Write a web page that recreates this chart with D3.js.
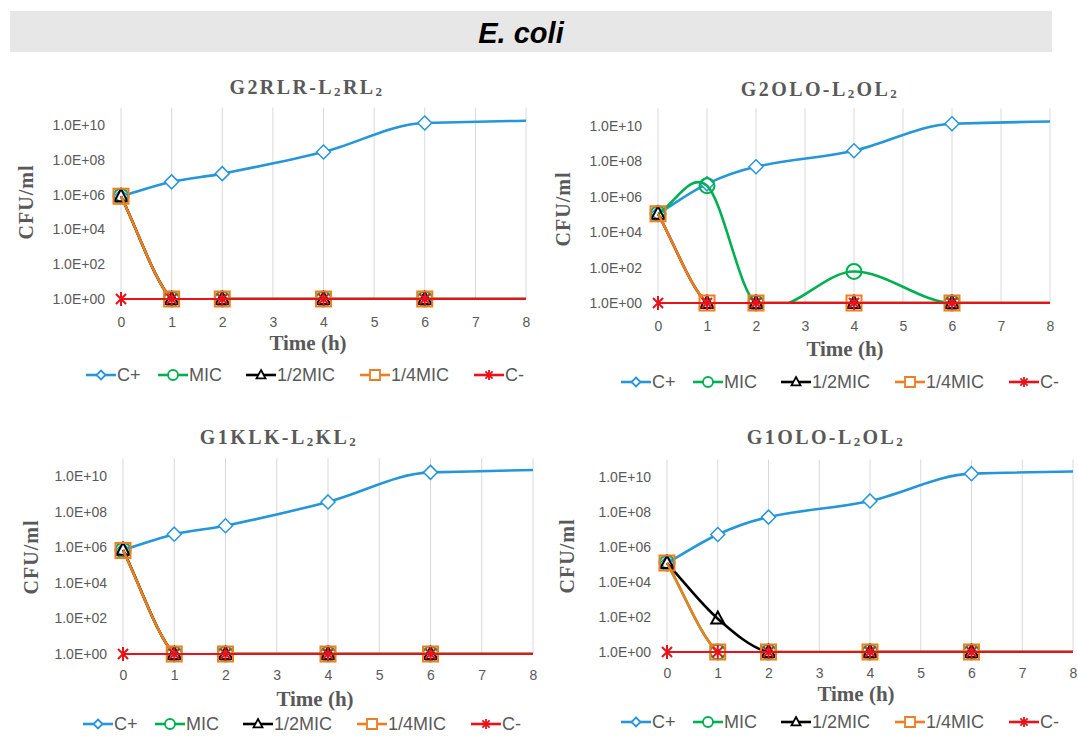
<!DOCTYPE html>
<html>
<head>
<meta charset="utf-8">
<script src="https://cdn.jsdelivr.net/npm/d3@7"></script>
<style>
  body { margin: 0; background: #fff; }
  svg { display: block; }
</style>
</head>
<body>
<svg width="1078" height="736"></svg>
<script>
// sampling times (h); the 24 h point lies beyond the axis and is clipped
var hours = [0, 1, 2, 4, 6, 24];
var xTicks = [0, 1, 2, 3, 4, 5, 6, 7, 8];
var yTicks = [1e0, 1e2, 1e4, 1e6, 1e8, 1e10];
var seriesNames = ["C+", "MIC", "1/2MIC", "1/4MIC", "C-"];
var panelTitles = ["G2RLR-L₂RL₂", "G2OLO-L₂OL₂", "G1KLK-L₂KL₂", "G1OLO-L₂OL₂"];

// CFU/ml, one array per series and peptide (0 CFU plotted as 1.0E+00)
var g2rlrCPlus   = [8.0e5, 5.4e6, 1.6e7, 2.8e8, 1.3e10, 1.3e10];
var g2rlrMic     = [8.0e5, 1, 1, 1, 1, 1];
var g2rlrHalf    = [8.0e5, 1, 1, 1, 1, 1];
var g2rlrQuarter = [8.0e5, 1, 1, 1, 1, 1];

var g2oloCPlus   = [1.1e5, 5.4e6, 5.0e7, 4.0e8, 1.35e10, 1.5e10];
var g2oloMic     = [1.1e5, 4.2e6, 1, 60, 1, 1];
var g2oloHalf    = [1.1e5, 1, 1, 1, 1, 1];
var g2oloQuarter = [1.1e5, 1, 1, 1, 1, 1];

var g1klkCPlus   = [6.8e5, 5.4e6, 1.6e7, 3.5e8, 1.6e10, 1.7e10];
var g1klkMic     = [6.8e5, 1, 1, 1, 1, 1];
var g1klkHalf    = [7.0e5, 1, 1, 1, 1, 1];
var g1klkQuarter = [6.6e5, 1, 1, 1, 1, 1];

var g1oloCPlus   = [1.2e5, 5.2e6, 5.1e7, 4.3e8, 1.55e10, 1.7e10];
var g1oloMic     = [1.2e5, 1, 1, 1, 1, 1];
var g1oloHalf    = [1.2e5, 80, 1, 1, 1, 1];
var g1oloQuarter = [1.2e5, 1, 1, 1, 1, 1];

var cMinus = [1, 1, 1, 1, 1, 1];

var panelSeries = [
  [g2rlrCPlus, g2rlrMic, g2rlrHalf, g2rlrQuarter, cMinus],
  [g2oloCPlus, g2oloMic, g2oloHalf, g2oloQuarter, cMinus],
  [g1klkCPlus, g1klkMic, g1klkHalf, g1klkQuarter, cMinus],
  [g1oloCPlus, g1oloMic, g1oloHalf, g1oloQuarter, cMinus]
];

// styling
var colors = ["#2596d8", "#00b050", "#000000", "#f07d21", "#e8121a"];
var markers = ["diamond", "circle", "triangle", "square", "star"];
var gray = "#595959";
var serif = "'Liberation Serif', 'DejaVu Serif', serif";
var sans = "'Liberation Sans', Arial, sans-serif";

// pixel layout of each panel
var layouts = [
  {x0: 121, x8: 526, yTop: 107.6, yBot: 299, titleX: 307, titleY: 87, timeX: 308, timeY: 343, tickY: 322, yTitleX: 26, yTitleY: 202, legX: 86, legY: 375},
  {x0: 658, x8: 1050, yTop: 108.3, yBot: 303, titleX: 820, titleY: 89, timeX: 845, timeY: 349, tickY: 326, yTitleX: 563, yTitleY: 209, legX: 621, legY: 382},
  {x0: 123, x8: 533, yTop: 458.2, yBot: 654, titleX: 279, titleY: 437, timeX: 315, timeY: 699, tickY: 675, yTitleX: 31, yTitleY: 557, legX: 83, legY: 724},
  {x0: 667, x8: 1073, yTop: 459.5, yBot: 652, titleX: 826, titleY: 437, timeX: 856, timeY: 694, tickY: 673, yTitleX: 567, yTitleY: 556, legX: 621, legY: 722}
];
var legendOffsets = [0, 72, 160, 274, 388];

// spreadsheet-like smoothing: cubic Hermite with three-point slopes (may overshoot)
function smoothCurve(context) {
  var pts;
  return {
    areaStart: function() {}, areaEnd: function() {},
    lineStart: function() { pts = []; },
    point: function(x, y) { pts.push([+x, +y]); },
    lineEnd: function() {
      var n = pts.length, m = [], i;
      if (!n) return;
      context.moveTo(pts[0][0], pts[0][1]);
      if (n < 3) { if (n == 2) context.lineTo(pts[1][0], pts[1][1]); return; }
      for (i = 1; i < n - 1; i++) {
        m[i] = (pts[i + 1][1] - pts[i - 1][1]) / (pts[i + 1][0] - pts[i - 1][0]);
      }
      // end slopes: plain secant
      m[0] = (pts[1][1] - pts[0][1]) / (pts[1][0] - pts[0][0]);
      m[n - 1] = (pts[n - 1][1] - pts[n - 2][1]) / (pts[n - 1][0] - pts[n - 2][0]);
      for (i = 0; i < n - 1; i++) {
        var dx = (pts[i + 1][0] - pts[i][0]) / 3;
        context.bezierCurveTo(pts[i][0] + dx, pts[i][1] + dx * m[i],
                              pts[i + 1][0] - dx, pts[i + 1][1] - dx * m[i + 1],
                              pts[i + 1][0], pts[i + 1][1]);
      }
    }
  };
}

function markerPath(kind, s) {
  if (kind == "diamond") return "M0," + (-s) + "L" + s + ",0L0," + s + "L" + (-s) + ",0Z";
  if (kind == "square") return "M" + (-s) + "," + (-s) + "H" + s + "V" + s + "H" + (-s) + "Z";
  if (kind == "triangle") return "M0," + (-s * 1.1) + "L" + s + "," + (s * 0.75) + "L" + (-s) + "," + (s * 0.75) + "Z";
  if (kind == "circle") return d3.arc()({innerRadius: 0, outerRadius: s, startAngle: 0, endAngle: 2 * Math.PI});
  var d = s * 0.72;
  return "M0," + (-s) + "V" + s + "M" + (-d) + "," + (-d) + "L" + d + "," + d + "M" + d + "," + (-d) + "L" + (-d) + "," + d;
}
var markerSize = [7, 7.5, 6.5, 7.5, 7];
var legendMarkerSize = [4.5, 5, 4.5, 5, 5];

var svg = d3.select("svg");

// header band
svg.append("rect")
  .attr("x", 10).attr("y", 11).attr("width", 1042).attr("height", 41)
  .attr("fill", "#e7e7e7");
svg.append("text")
  .attr("x", 521).attr("y", 33)
  .attr("text-anchor", "middle")
  .attr("dominant-baseline", "central")
  .attr("font-family", sans)
  .attr("font-weight", "bold")
  .attr("font-style", "italic")
  .attr("font-size", 29)
  .text("E. coli");

layouts.forEach(function(L, p) {
  var x = d3.scaleLinear().domain([0, 8]).range([L.x0, L.x8]);
  var y = d3.scaleLog().domain([1, 1e11]).range([L.yBot, L.yTop]);
  var g = svg.append("g");

  // title with subscripts
  var title = g.append("text")
    .attr("x", L.titleX).attr("y", L.titleY)
    .attr("text-anchor", "middle")
    .attr("dominant-baseline", "central")
    .attr("font-family", serif)
    .attr("font-weight", "bold")
    .attr("font-size", 20)
    .attr("letter-spacing", 2.4)
    .attr("fill", gray);
  var parts = panelTitles[p].split("₂");
  parts.forEach(function(part, i) {
    var t = title.append("tspan").text(part);
    if (i > 0) t.attr("dy", -4);
    if (i < parts.length - 1) {
      title.append("tspan").attr("font-size", 13).attr("dy", 4).text("2");
    }
  });
  title.selectAll("tspan").filter(function() { return this.textContent == ""; }).remove();

  // vertical gridlines
  g.selectAll(".grid")
    .data(xTicks)
    .enter().append("line")
    .attr("x1", function(d) { return x(d); })
    .attr("x2", function(d) { return x(d); })
    .attr("y1", L.yTop)
    .attr("y2", L.yBot)
    .attr("stroke", "#d9d9d9")
    .attr("stroke-width", 1);

  // axes
  var xAxis = g.append("g")
    .attr("transform", "translate(0," + L.yBot + ")")
    .call(d3.axisBottom(x).tickValues(xTicks).tickSize(0).tickPadding(L.tickY - L.yBot - 5).tickFormat(d3.format("d")));
  var yAxis = g.append("g")
    .attr("transform", "translate(" + L.x0 + ",0)")
    .call(d3.axisLeft(y).tickValues(yTicks).tickSize(0).tickPadding(16)
      .tickFormat(function(d) { return "1.0E+" + String(Math.round(Math.log10(d))).padStart(2, "0"); }));
  [xAxis, yAxis].forEach(function(a) {
    a.select(".domain").remove();
    a.attr("font-family", sans).attr("font-size", 14);
    a.selectAll("text").attr("fill", gray);
  });

  // axis titles
  g.append("text")
    .attr("transform", "translate(" + L.yTitleX + "," + L.yTitleY + ") rotate(-90)")
    .attr("text-anchor", "middle")
    .attr("dominant-baseline", "central")
    .attr("font-family", serif)
    .attr("font-weight", "bold")
    .attr("font-size", 20)
    .attr("letter-spacing", 1)
    .attr("fill", gray)
    .text("CFU/ml");
  g.append("text")
    .attr("x", L.timeX).attr("y", L.timeY)
    .attr("text-anchor", "middle")
    .attr("dominant-baseline", "central")
    .attr("font-family", serif)
    .attr("font-weight", "bold")
    .attr("font-size", 21)
    .attr("fill", gray)
    .text("Time (h)");

  // clip lines to the plot area
  var clipId = "clip" + p;
  g.append("clipPath").attr("id", clipId)
    .append("rect")
    .attr("x", L.x0 - 3).attr("y", L.yTop)
    .attr("width", L.x8 - L.x0 + 3).attr("height", L.yBot - L.yTop + 1);

  var line = d3.line()
    .x(function(d) { return x(d[0]); })
    .y(function(d) { return y(d[1]); })
    .curve(smoothCurve);

  panelSeries[p].forEach(function(values, s) {
    var pts = hours.map(function(h, i) { return [h, values[i]]; });
    g.append("path")
      .attr("clip-path", "url(#" + clipId + ")")
      .attr("d", line(pts))
      .attr("fill", "none")
      .attr("stroke", colors[s])
      .attr("stroke-width", s == 4 ? 2 : 2.6);
    g.selectAll(".m" + s)
      .data(pts.filter(function(d) { return d[0] <= 8; }))
      .enter().append("path")
      .attr("class", "m" + s)
      .attr("transform", function(d) { return "translate(" + x(d[0]) + "," + y(d[1]) + ")"; })
      .attr("d", markerPath(markers[s], markerSize[s]))
      .attr("fill", s == 0 ? "#fff" : "none")
      .attr("stroke", colors[s])
      .attr("stroke-width", s == 0 ? 1.5 : 2);
  });

  // legend
  var leg = g.selectAll(".leg")
    .data(seriesNames)
    .enter().append("g")
    .attr("transform", function(d, i) { return "translate(" + (L.legX + legendOffsets[i]) + "," + L.legY + ")"; });
  leg.append("line")
    .attr("x1", 0).attr("x2", 30)
    .attr("stroke", function(d, i) { return colors[i]; })
    .attr("stroke-width", 2.6);
  leg.append("path")
    .attr("transform", "translate(15,0)")
    .attr("d", function(d, i) { return markerPath(markers[i], legendMarkerSize[i]); })
    .attr("fill", "#fff")
    .attr("stroke", function(d, i) { return colors[i]; })
    .attr("stroke-width", 1.8);
  leg.append("text")
    .attr("x", 31)
    .attr("dominant-baseline", "central")
    .attr("font-family", sans)
    .attr("font-size", 18)
    .attr("fill", gray)
    .text(function(d) { return d; });
});
</script>
</body>
</html>
